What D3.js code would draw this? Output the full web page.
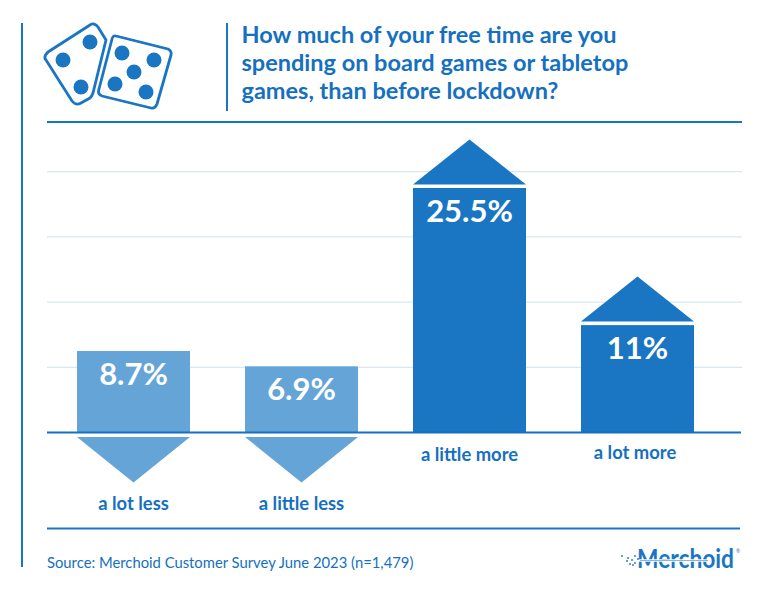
<!DOCTYPE html>
<html><head><meta charset="utf-8">
<script src="https://cdn.jsdelivr.net/npm/d3@7"></script>
<style>html,body{margin:0;padding:0;background:#fff}svg{display:block}text{font-family:Lato,sans-serif}</style>
</head><body><div id="c"></div>
<script>
const categories = ["a lot less","a little less","a little more","a lot more"];
const barValues = [8.5,6.9,25.5,11.2];
const valueLabels = ["8.7%","6.9%","25.5%","11%"];
const directions = ["down","down","up","up"];
const gridValues = [6.8,13.6,20.4,27.2];
const titleLines = ["How much of your free time are you","spending on board games or tabletop","games, than before lockdown?"];
const sourceText = "Source: Merchoid Customer Survey June 2023 (n=1,479)";
const BLUE="#1a76c2", LIGHT="#65a4d7", TEXT="#1570bf", GRID="#cfe2ef";

const svg=d3.select("#c").append("svg").attr("width",771).attr("height",600);
const x=d3.scaleBand().domain(categories).range([77,694]).paddingInner(55/168).paddingOuter(0);
const y=d3.scaleLinear().domain([0,25.5]).range([432.5,188]);
const line=(x1,y1,x2,y2,c,w)=>svg.append("line").attr("x1",x1).attr("y1",y1).attr("x2",x2).attr("y2",y2).attr("stroke",c).attr("stroke-width",w);

svg.append("g").selectAll("line").data(gridValues).join("line")
  .attr("x1",47).attr("x2",742).attr("y1",d=>y(d)).attr("y2",d=>y(d)).attr("stroke",GRID).attr("stroke-width",1);
line(22,23,22,567,BLUE,2);
line(227,23,227,111,BLUE,2);
line(47,122,742,122,BLUE,2);
line(47,528.5,740,528.5,BLUE,2);

const col=i=>directions[i]==="up"?BLUE:LIGHT;
svg.append("g").selectAll("rect").data(barValues).join("rect")
  .attr("x",(d,i)=>x(categories[i])).attr("width",x.bandwidth())
  .attr("y",d=>y(d)).attr("height",d=>y(0)-y(d)).attr("fill",(d,i)=>col(i));
svg.append("g").selectAll("path").data(barValues).join("path").attr("fill",(d,i)=>col(i))
  .attr("d",(d,i)=>{
    const a=x(categories[i]),b=a+x.bandwidth(),m=(a+b)/2;
    if(directions[i]==="up"){const t=y(d)-3.5;return `M${a},${t}L${m},${t-45}L${b},${t}Z`;}
    const t=y(0)+4.5;return `M${a},${t}L${m},${t+45.5}L${b},${t}Z`;
  });
line(47,432.5,741,432.5,"#1570bf",2);

svg.append("g").selectAll("text").data(valueLabels).join("text")
  .attr("x",(d,i)=>x(categories[i])+x.bandwidth()/2).attr("y",(d,i)=>y(barValues[i])+34)
  .attr("text-anchor","middle").attr("fill","#fff").attr("font-size",31).attr("font-weight",700).text(d=>d);
const catY=[510,510,461,459];
const catDx=[0,0,0,-2.5];
svg.append("g").selectAll("text").data(categories).join("text")
  .attr("x",(d,i)=>x(d)+x.bandwidth()/2+catDx[i]).attr("y",(d,i)=>catY[i])
  .attr("text-anchor","middle").attr("fill",TEXT).attr("font-size",18.4).attr("font-weight",700).text(d=>d);

svg.append("g").selectAll("text").data(titleLines).join("text")
  .attr("x",241.5).attr("y",(d,i)=>43+i*28).attr("fill",TEXT).attr("font-size",23.5).attr("font-weight",700).text(d=>d);
svg.append("text").attr("x",47).attr("y",568).attr("fill",TEXT).attr("font-size",14.8).text(sourceText);

// dice icon
const ic=svg.append("g").attr("fill","none").attr("stroke",BLUE).attr("stroke-width",2.8).attr("stroke-linejoin","round");
ic.append("path").attr("d","M45.5,55 Q44,58 46,60 L72,101 Q76,106 81,103 L90,98 Q92,96 93,93 L106,40 L98,27 Q94,22 90,25 L48,52 Z");
ic.append("path").attr("d","M116,36 L168,49 Q172,51 171,55 L157,104 Q155,109 151,108 L102,96 Q97,94 99,89 L112,39 Q113,35 116,36 Z");
const pips=[[90,42],[63,60],[81,87],[122,53],[154,60],[134,72],[115,84],[146,92]];
svg.append("g").selectAll("circle").data(pips).join("circle").attr("cx",d=>d[0]).attr("cy",d=>d[1]).attr("r",7.5).attr("fill",BLUE);

// logo
const logo=svg.append("g");
const word=logo.append("text").attr("fill",BLUE).attr("font-size",27).attr("font-weight",700).text("Merchoid");
word.attr("transform",`translate(637,568) scale(${97/word.node().getComputedTextLength()},1)`);
logo.append("line").attr("x1",630).attr("x2",706).attr("y1",560.5).attr("y2",560.5).attr("stroke","#fff").attr("stroke-width",2.5);
logo.append("line").attr("x1",640).attr("x2",708).attr("y1",560.5).attr("y2",560.5).attr("stroke",LIGHT).attr("stroke-width",.8);
logo.append("text").attr("x",736).attr("y",553).attr("fill",BLUE).attr("font-size",5).text("®");
const specks=[[622,556],[628,558],[630,564],[632,560],[635,556],[635,563],[638,559],[633,565],[627,561]];
logo.selectAll("circle").data(specks).join("circle").attr("cx",d=>d[0]).attr("cy",d=>d[1]).attr("r",.9).attr("fill",BLUE);
</script></body></html>
